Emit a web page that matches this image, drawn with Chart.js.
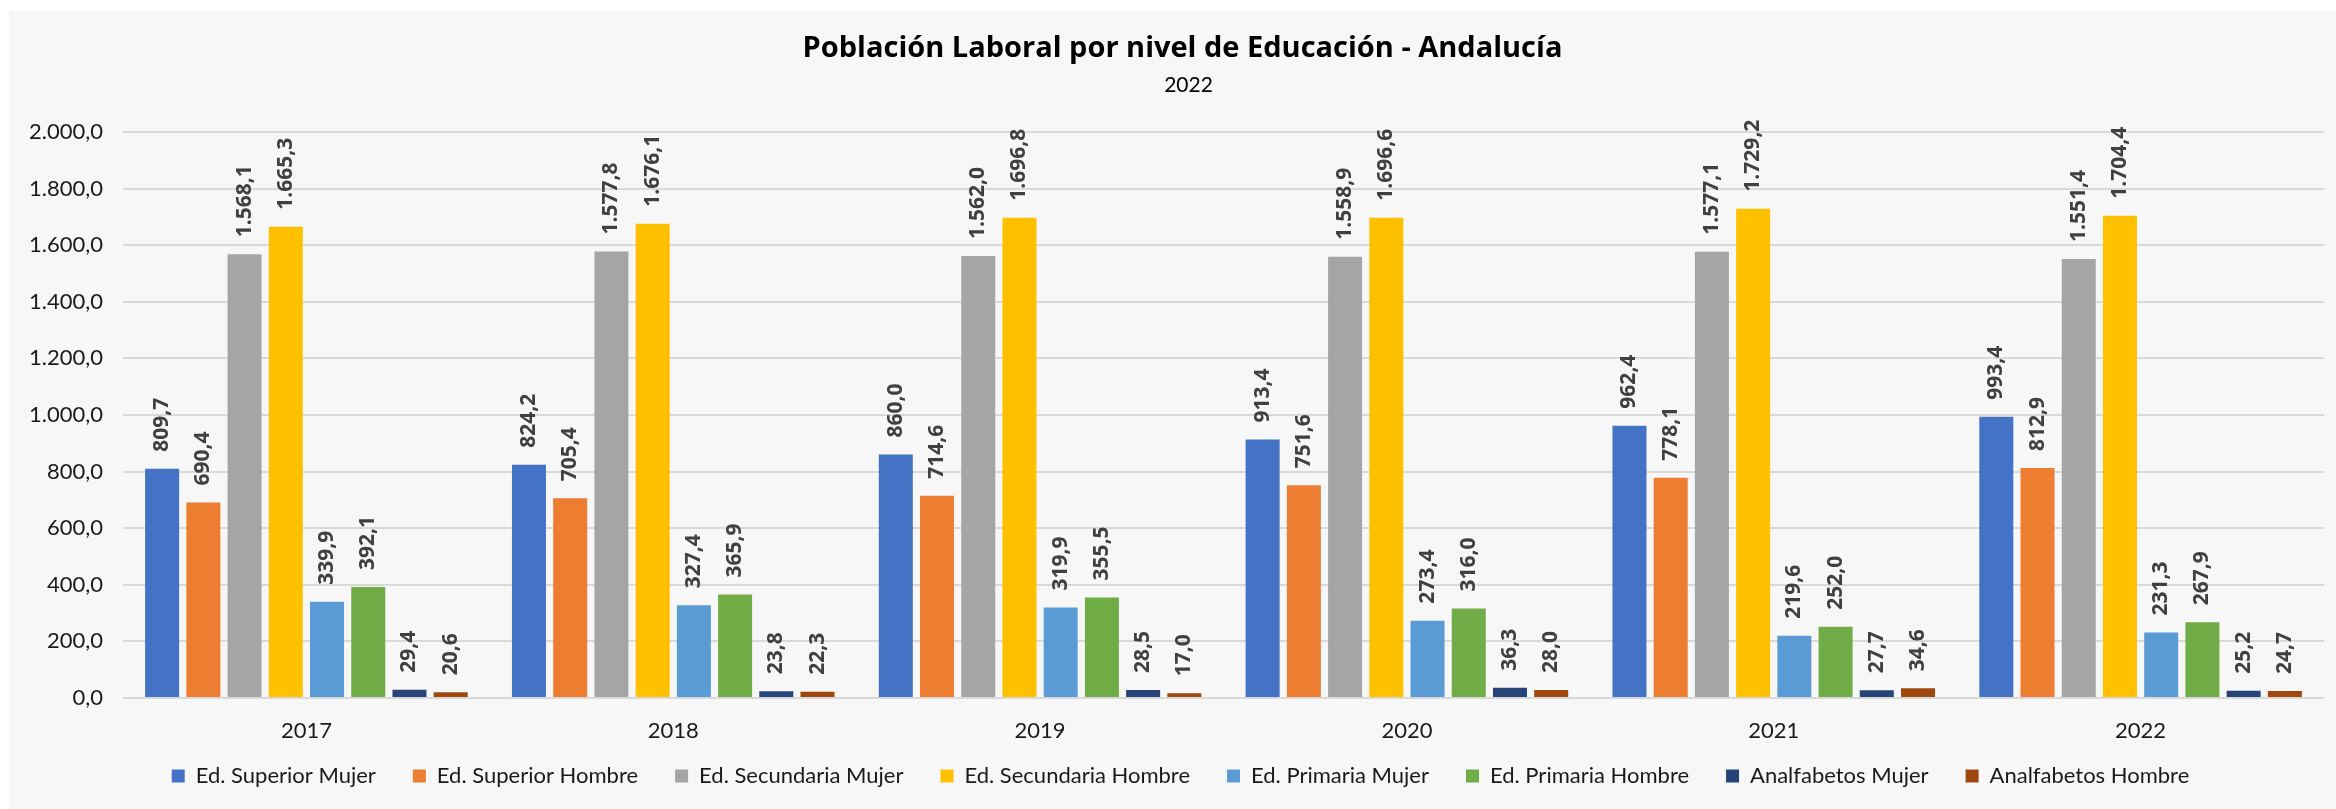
<!DOCTYPE html>
<html>
<head>
<meta charset="utf-8">
<script src="https://cdn.jsdelivr.net/npm/chart.js@4.4.1/dist/chart.umd.min.js"></script>
<style>
  html, body { margin: 0; padding: 0; background: #ffffff; }
  canvas { display: block; }
</style>
</head>
<body>
<canvas id="myChart" width="2336" height="809"></canvas>
<script>
    // categorías (años)
    let labels = ["2017", "2018", "2019", "2020", "2021", "2022"];
    // series (miles de personas)
    let superiorMujer    = [809.7, 824.2, 860.0, 913.4, 962.4, 993.4];
    let superiorHombre   = [690.4, 705.4, 714.6, 751.6, 778.1, 812.9];
    let secundariaMujer  = [1568.1, 1577.8, 1562.0, 1558.9, 1577.1, 1551.4];
    let secundariaHombre = [1665.3, 1676.1, 1696.8, 1696.6, 1729.2, 1704.4];
    let primariaMujer    = [339.9, 327.4, 319.9, 273.4, 219.6, 231.3];
    let primariaHombre   = [392.1, 365.9, 355.5, 316.0, 252.0, 267.9];
    let analfMujer       = [29.4, 23.8, 28.5, 36.3, 27.7, 25.2];
    let analfHombre      = [20.6, 22.3, 17.0, 28.0, 34.6, 24.7];
    // eje Y
    let yMin = 0, yMax = 2000, yStep = 200;

    let titulo = 'Población Laboral por nivel de Educación - Andalucía';
    let subtitulo = '2022';

    // formato 1.234,5
    function fmt(v) {
        let parts = Number(v).toFixed(1).split(".");
        parts[0] = parts[0].replace(/\B(?=(\d{3})+(?!\d))/g, ".");
        return parts[0] + "," + parts[1];
    }

    const fuente = "Lato, 'Open Sans', sans-serif";

    // fondo gris
    const fondo = {
        id: 'fondo',
        beforeDraw(chart) {
            const c = chart.ctx;
            c.save();
            c.fillStyle = '#ffffff';
            c.fillRect(0, 0, chart.width, chart.height);
            c.fillStyle = '#f7f7f7';
            c.fillRect(9, 11, chart.width - 9, chart.height - 11);
            c.restore();
        }
    };

    // colocar leyenda y títulos
    const ajustes = {
        id: 'ajustes',
        afterLayout(chart) {
            const lg = chart.legend;
            lg.top = 728;
            lg.height = 75;
            lg.bottom = lg.top + lg.height;
            lg.left += 7;
            lg.right += 7;
            chart.boxes.forEach(b => {
                if (!b.options) return;
                let dx = 0;
                if (b.options.text === titulo) dx = 9;
                if (b.options.text === subtitulo) dx = 15;
                b.left += dx;
                b.right += dx;
            });
        }
    };

    // etiquetas de valor giradas
    const etiquetas = {
        id: 'etiquetas',
        afterDatasetsDraw(chart) {
            const c = chart.ctx;
            c.save();
            c.fillStyle = '#404040';
            c.font = "bold 21px 'Open Sans', sans-serif";
            c.textAlign = 'left';
            c.textBaseline = 'middle';
            chart.data.datasets.forEach((ds, i) => {
                chart.getDatasetMeta(i).data.forEach((bar, j) => {
                    c.save();
                    c.translate(bar.x, bar.y - 17);
                    c.rotate(-Math.PI / 2);
                    c.fillText(fmt(ds.data[j]), 0, 0);
                    c.restore();
                });
            });
            c.restore();
        }
    };

    let ctx = document.getElementById("myChart");
    let myChart = new Chart(ctx, {
        type: 'bar',
        data: {
            labels: labels,
            datasets: [
                { label: 'Ed. Superior Mujer',    data: superiorMujer,    backgroundColor: '#4472c4' },
                { label: 'Ed. Superior Hombre',   data: superiorHombre,   backgroundColor: '#ed7d31' },
                { label: 'Ed. Secundaria Mujer',  data: secundariaMujer,  backgroundColor: '#a5a5a5' },
                { label: 'Ed. Secundaria Hombre', data: secundariaHombre, backgroundColor: '#ffc000' },
                { label: 'Ed. Primaria Mujer',    data: primariaMujer,    backgroundColor: '#5b9bd5' },
                { label: 'Ed. Primaria Hombre',   data: primariaHombre,   backgroundColor: '#70ad47' },
                { label: 'Analfabetos Mujer',     data: analfMujer,       backgroundColor: '#264478' },
                { label: 'Analfabetos Hombre',    data: analfHombre,      backgroundColor: '#9e480e' }
            ]
        },
        plugins: [fondo, ajustes, etiquetas],
        options: {
            responsive: false,
            animation: false,
            devicePixelRatio: 1,
            datasets: {
                bar: { categoryPercentage: 0.899, barPercentage: 0.825 }
            },
            layout: { padding: { left: 23, right: 12, top: 0, bottom: 9 } },
            scales: {
                x: {
                    afterFit(scale) { scale.height = 52; },
                    grid: { display: false },
                    border: { display: false },
                    ticks: { color: '#1a1a1a', font: { family: fuente, size: 22 }, padding: 12 }
                },
                y: {
                    min: yMin,
                    max: yMax,
                    afterFit(scale) { scale.width = 100; },
                    grid: { color: '#d9d9d9', lineWidth: 2, drawTicks: false },
                    border: { display: false },
                    ticks: {
                        stepSize: yStep,
                        color: '#1a1a1a',
                        padding: 20,
                        font: { family: fuente, size: 22 },
                        callback: v => fmt(v)
                    }
                }
            },
            plugins: {
                title: {
                    display: true,
                    text: titulo,
                    color: '#000000',
                    font: { family: "'Open Sans', sans-serif", size: 29, weight: 'bold' },
                    padding: { top: 31, bottom: 0 }
                },
                subtitle: {
                    display: true,
                    text: subtitulo,
                    color: '#000000',
                    font: { family: fuente, size: 21 },
                    padding: { top: 7, bottom: 34 }
                },
                legend: {
                    position: 'bottom',
                    maxHeight: 50,
                    labels: {
                        color: '#1a1a1a',
                        font: { family: fuente, size: 22 },
                        boxWidth: 13,
                        boxHeight: 13,
                        padding: 37
                    }
                },
                tooltip: { enabled: false }
            }
        }
    });
</script>
</body>
</html>
